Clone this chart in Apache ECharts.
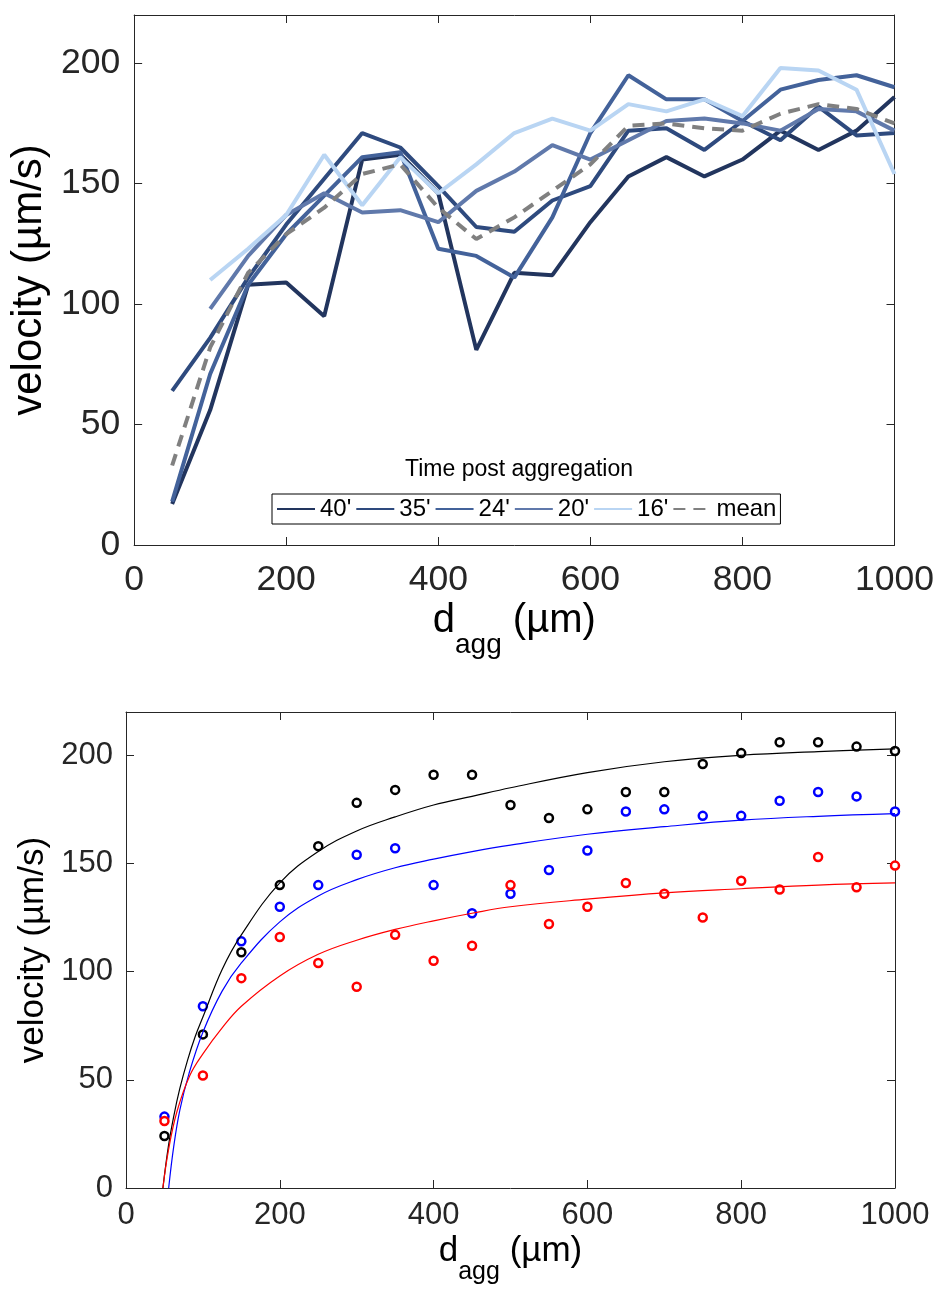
<!DOCTYPE html>
<html><head><meta charset="utf-8">
<script src="https://cdn.jsdelivr.net/npm/echarts@6/dist/echarts.min.js"></script>
<style>html,body{margin:0;padding:0;background:#fff}#c{width:937px;height:1291px}</style>
</head><body><div id="c"></div>
<script>
// ---------- data: top panel ----------
const dAgg = [50,100,150,200,250,300,350,400,450,500,550,600,650,700,750,800,850,900,950,1000];
const seriesNames = ["40'", "35'", "24'", "20'", "16'", "mean"];
const v40  = [17,56,108,109,95,160,162,146,81,113,112,134,153,161,153,160,172,164,172,186];
const v35  = [64,86,111,133,152,171,165,149,132,130,143,149,172,173,164,176,168,182,170,171];
const v24  = [18,71,108,129,145,161,163,123,120,111,136,171,195,185,185,176,189,193,195,190];
const v20  = [null,98,120,137,146,138,139,134,147,155,166,160,168,176,177,175,172,181,180,172];
const v16  = [null,110,123,137,162,141,161,146,158,171,177,172,183,180,185,178,198,197,189,154];
const vMean= [33,82,113,129,140,154,158,140,127,136,147,158,174,175,173,172,179,183,181,175];

// ---------- data: bottom panel ----------
const ptBlack = [24,71,109,140,158,178,184,191,191,177,171,175,183,183,196,201,206,206,204,202];
const ptBlue  = [33,84,114,130,140,154,157,140,127,136,147,156,174,175,172,172,179,183,181,174];
const ptRed   = [31,52,97,116,104,93,117,105,112,140,122,130,141,136,125,142,138,153,139,149];

const fitXBlack = [48,55,62,70,80,90,100,125,150,200,250,300,350,400,450,500,600,700,800,900,1000];
const fitBlack  = [0,19,33,46,59,70,79,101,117,141,155.5,165,171.5,177,181,185,192,197,200,201.7,203];
const fitXBlue  = [55.5,62,70,82,100,125,150,200,250,300,350,400,450,500,600,700,800,900,1000];
const fitBlue   = [0,19,36,53,72,91,104,123,135,142.5,148,152,155.5,158.5,163.5,167,170,171.8,173];
const fitXRed   = [48,55,66,83,100,125,150,200,250,300,350,400,450,500,600,700,800,900,1000];
const fitRed    = [0,17,35,52,62,74,84,98,108,114.5,119.5,123.5,127,130,133.5,136.4,138.3,140,141];

const xTicks = [0,200,400,600,800,1000];
const yTicks = [0,50,100,150,200];

// ---------- styling ----------
const FONT = "'Liberation Sans', Arial, Helvetica, sans-serif";
const AX = '#262626';
const lineColors = ['#22355e', '#2e4a7e', '#43629a', '#6079ab', '#b9d5f3', '#808080'];

function pairs(xs, ys) { return xs.map((x, i) => [x, ys[i]]); }

function xAx(grid, pos, labelSize, margin, nameSize, subSize, nameGap, subPad) {
  const ax = {
    type: 'value', gridIndex: grid, position: pos, min: 0, max: 1000, interval: 200,
    axisLine: { show: true, onZero: false, lineStyle: { color: AX, width: 1 } },
    axisTick: { show: true, inside: true, length: 8, lineStyle: { color: AX, width: 1 } },
    splitLine: { show: false },
    axisLabel: { show: pos === 'bottom', fontSize: labelSize, color: AX, margin: margin, fontFamily: FONT,
      formatter: v => xTicks.includes(v) ? String(v) : '' }
  };
  if (pos === 'bottom') {
    ax.name = '{a|d}{b|agg}{a| (µm)}';
    ax.nameLocation = 'middle';
    ax.nameGap = nameGap;
    ax.nameTextStyle = {
      fontFamily: FONT, color: '#000',
      rich: {
        a: { fontSize: nameSize, fontFamily: FONT, color: '#000', lineHeight: nameSize, verticalAlign: 'top' },
        b: { fontSize: subSize, fontFamily: FONT, color: '#000', padding: [subPad, 0, 0, 0], verticalAlign: 'bottom' }
      }
    };
  }
  return ax;
}
function yAx(grid, pos, labelSize, margin, nameSize, nameGap) {
  const ax = {
    type: 'value', gridIndex: grid, position: pos, min: 0, max: 220, interval: 50,
    axisLine: { show: true, onZero: false, lineStyle: { color: AX, width: 1 } },
    axisTick: { show: true, inside: true, length: 8, lineStyle: { color: AX, width: 1 } },
    splitLine: { show: false },
    axisLabel: { show: pos === 'left', fontSize: labelSize, color: AX, margin: margin, fontFamily: FONT,
      showMaxLabel: false, formatter: v => yTicks.includes(v) ? String(v) : '' }
  };
  if (pos === 'left') {
    ax.name = 'velocity (µm/s)';
    ax.nameLocation = 'middle';
    ax.nameGap = nameGap;
    ax.nameTextStyle = { fontSize: nameSize, fontFamily: FONT, color: '#000' };
  }
  return ax;
}

const topData = [v40, v35, v24, v20, v16, vMean];
const series = topData.map((arr, i) => ({
  name: seriesNames[i], type: 'line', xAxisIndex: 0, yAxisIndex: 0,
  data: pairs(dAgg, arr), symbol: 'none', showSymbol: false,
  color: lineColors[i],
  lineStyle: { color: lineColors[i], width: 4, type: i === 5 ? [12, 8] : 'solid' },
  z: 2 + i
}));

const ptSets = [[ptBlack, '#000000', 'black'], [ptBlue, '#0000ff', 'blue'], [ptRed, '#ff0000', 'red']];
ptSets.forEach(([arr, col, nm]) => {
  series.push({
    name: 'pts-' + nm, type: 'scatter', xAxisIndex: 2, yAxisIndex: 2,
    data: pairs(dAgg, arr), symbol: 'circle', symbolSize: 8,
    itemStyle: { color: '#ffffff', borderColor: col, borderWidth: 2.5, opacity: 1 }, z: 3
  });
});
const fitSets = [[fitXBlack, fitBlack, '#000000', 'black'], [fitXBlue, fitBlue, '#0000ff', 'blue'], [fitXRed, fitRed, '#ff0000', 'red']];
fitSets.forEach(([xs, ys, col, nm]) => {
  series.push({
    name: 'fit-' + nm, type: 'line', xAxisIndex: 2, yAxisIndex: 2,
    data: pairs(xs, ys), symbol: 'none', showSymbol: false, smooth: 0.4,
    lineStyle: { color: col, width: 1.2 }, z: 4
  });
});

const option = {
  animation: false,
  backgroundColor: '#fff',
  textStyle: { fontFamily: FONT },
  title: [{
    text: 'Time post aggregation', left: 514, top: 453, textAlign: 'center',
    textStyle: { fontSize: 23, fontWeight: 'normal', color: '#000', fontFamily: FONT }
  }],
  legend: {
    data: seriesNames, left: 272, top: 494, orient: 'horizontal',
    itemWidth: 38, itemHeight: 14, itemGap: 4, padding: [3, 4, 3, 4],
    borderColor: '#000', borderWidth: 1, backgroundColor: '#fff',
    itemStyle: { opacity: 0, borderWidth: 0 },
    textStyle: { fontSize: 24, color: '#000', fontFamily: FONT },
    selectedMode: false
  },
  grid: [
    { left: 126, right: 42, top: 15, height: 530, containLabel: false },
    { left: 126, right: 42, top: 712, height: 476, containLabel: false }
  ],
  xAxis: [
    xAx(0, 'bottom', 35.5, 17, 40, 28, 56, 30),
    xAx(0, 'top', 35.5, 17),
    xAx(1, 'bottom', 31, 12, 35, 25, 46, 26),
    xAx(1, 'top', 31, 12)
  ],
  yAxis: [
    yAx(0, 'left', 35.5, 14, 42, 78),
    yAx(0, 'right', 35.5, 14),
    yAx(1, 'left', 31, 13, 35, 70),
    yAx(1, 'right', 31, 13)
  ],
  series: series
};

const chart = echarts.init(document.getElementById('c'), null, { renderer: 'canvas', width: 937, height: 1291 });
chart.setOption(option);
</script></body></html>
